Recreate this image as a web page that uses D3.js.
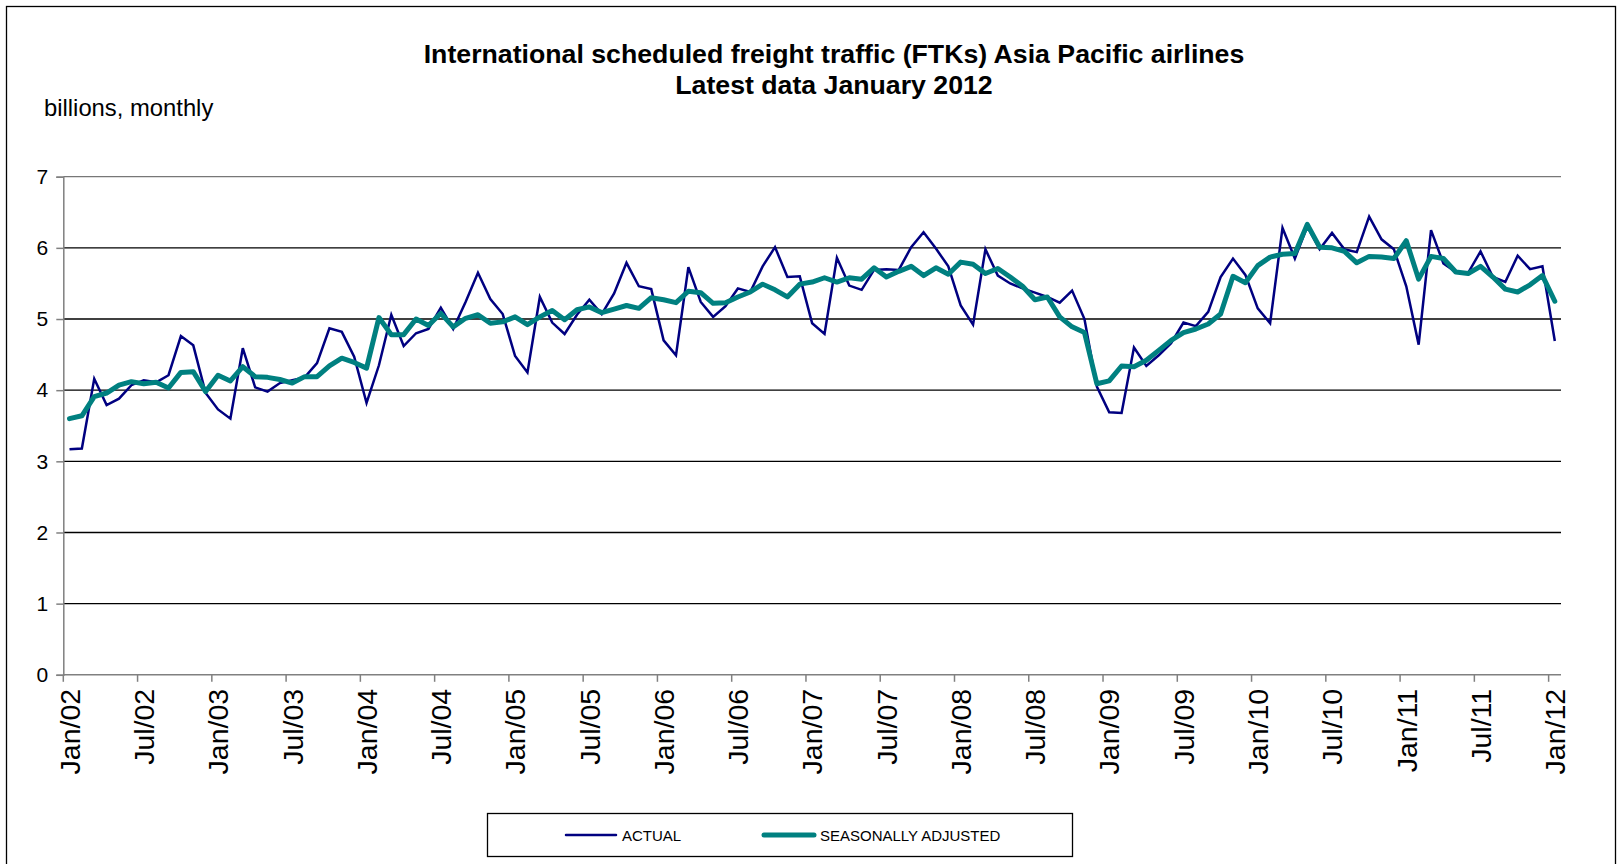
<!DOCTYPE html>
<html>
<head>
<meta charset="utf-8">
<script src="https://cdn.jsdelivr.net/npm/d3@7"></script>
<style>
  body { margin: 0; background: #fff; }
  svg { display: block; }
  text { font-family: "Liberation Sans", Arial, sans-serif; fill: #000; }
</style>
</head>
<body>
<svg id="chart" width="1619" height="864"></svg>
<script>
// months Jan 2002 .. Jan 2012 (121 categories)
const months = d3.timeMonth.range(new Date(2002, 0, 1), new Date(2012, 1, 1));

// ACTUAL, billions FTK per month
const actual = [
  3.17, 3.18, 4.16, 3.79, 3.88, 4.07, 4.14, 4.11, 4.21, 4.76, 4.63, 3.96,
  3.73, 3.60, 4.59, 4.04, 3.98, 4.10, 4.14, 4.18, 4.38, 4.87, 4.82, 4.47,
  3.82, 4.35, 5.06, 4.62, 4.80, 4.86, 5.16, 4.86, 5.24, 5.65, 5.28, 5.07,
  4.48, 4.25, 5.31, 4.95, 4.79, 5.06, 5.27, 5.07, 5.36, 5.79, 5.46, 5.42,
  4.70, 4.49, 5.73, 5.24, 5.03, 5.18, 5.43, 5.38, 5.74, 6.01, 5.59, 5.60,
  4.94, 4.79, 5.86, 5.47, 5.41, 5.69, 5.70, 5.69, 6.01, 6.22, 5.99, 5.74,
  5.19, 4.92, 5.98, 5.61, 5.50, 5.43, 5.37, 5.31, 5.23, 5.40, 5.00, 4.05,
  3.69, 3.68, 4.60, 4.34, 4.49, 4.66, 4.95, 4.90, 5.10, 5.59, 5.85, 5.62,
  5.15, 4.94, 6.28, 5.85, 6.30, 5.98, 6.21, 5.98, 5.94, 6.44, 6.12, 5.98,
  5.46, 4.64, 6.25, 5.78, 5.66, 5.65, 5.95, 5.59, 5.52, 5.89, 5.70, 5.74,
  4.69
];

// SEASONALLY ADJUSTED
const seasAdj = [
  3.60, 3.64, 3.91, 3.96, 4.07, 4.12, 4.09, 4.11, 4.03, 4.25, 4.26, 3.98,
  4.21, 4.13, 4.33, 4.19, 4.18, 4.15, 4.10, 4.19, 4.19, 4.34, 4.45, 4.39,
  4.31, 5.02, 4.78, 4.78, 5.00, 4.91, 5.08, 4.89, 5.01, 5.06, 4.94, 4.96,
  5.03, 4.92, 5.03, 5.12, 4.99, 5.13, 5.17, 5.09, 5.14, 5.19, 5.15, 5.30,
  5.27, 5.23, 5.39, 5.37, 5.22, 5.23, 5.31, 5.38, 5.49, 5.41, 5.31, 5.49,
  5.52, 5.58, 5.52, 5.58, 5.56, 5.72, 5.59, 5.67, 5.74, 5.61, 5.72, 5.63,
  5.80, 5.77, 5.64, 5.71, 5.59, 5.46, 5.27, 5.31, 5.03, 4.89, 4.81, 4.09,
  4.13, 4.34, 4.33, 4.42, 4.56, 4.70, 4.81, 4.86, 4.93, 5.07, 5.60, 5.51,
  5.75, 5.87, 5.91, 5.92, 6.33, 6.01, 6.00, 5.95, 5.79, 5.88, 5.87, 5.85,
  6.10, 5.56, 5.88, 5.85, 5.66, 5.64, 5.74, 5.59, 5.42, 5.38, 5.48, 5.61,
  5.25
];

const yTicks = [0, 1, 2, 3, 4, 5, 6, 7];
const xTickLabels = ["Jan/02", "Jul/02", "Jan/03", "Jul/03", "Jan/04", "Jul/04",
  "Jan/05", "Jul/05", "Jan/06", "Jul/06", "Jan/07", "Jul/07", "Jan/08", "Jul/08",
  "Jan/09", "Jul/09", "Jan/10", "Jul/10", "Jan/11", "Jul/11", "Jan/12"];

const titleLines = ["International scheduled freight traffic (FTKs) Asia Pacific airlines",
  "Latest data January 2012"];
const unitLabel = "billions, monthly";
const seriesNames = ["ACTUAL", "SEASONALLY ADJUSTED"];

const fmt = d3.timeFormat("%b/%y");
const svg = d3.select("#chart");

// plot area
const plot = { left: 63.3, right: 1561, top: 176.7, bottom: 674.8 };

// outer frame
svg.append("rect")
  .attr("x", 6.5).attr("y", 6.5)
  .attr("width", 1609).attr("height", 900)
  .attr("fill", "#fff")
  .attr("stroke", "#000").attr("stroke-width", 1.3);

// scales
const x = d3.scaleBand()
  .domain(months)
  .range([plot.left, plot.right])
  .padding(0);
const y = d3.scaleLinear()
  .domain([0, 7])
  .range([plot.bottom, plot.top]);
const cx = d => x(d) + x.bandwidth() / 2;

// title
svg.selectAll(".title")
  .data(titleLines)
  .enter().append("text")
  .attr("class", "title")
  .attr("x", 834)
  .attr("y", (d, i) => 63.3 + i * 31)
  .attr("text-anchor", "middle")
  .style("font-weight", "bold")
  .style("font-size", "26.7px")
  .text(d => d);

svg.append("text")
  .attr("x", 44)
  .attr("y", 116)
  .style("font-size", "23.8px")
  .text(unitLabel);

// gridlines
svg.append("g")
  .selectAll("line")
  .data(yTicks.filter(d => d > 0))
  .enter().append("line")
  .attr("x1", plot.left).attr("x2", plot.right)
  .attr("y1", d => y(d)).attr("y2", d => y(d))
  .attr("stroke", d => d === 7 ? "#777" : "#000")
  .attr("stroke-width", 1.3);

// y axis
const yAxis = d3.axisLeft(y).tickValues(yTicks).tickSize(7).tickPadding(8).tickFormat(d3.format("d"));
const gy = svg.append("g")
  .attr("transform", `translate(${plot.left},0)`)
  .call(yAxis);
gy.select(".domain").attr("stroke", "#808080").attr("stroke-width", 1.5);
gy.selectAll(".tick line").attr("stroke", "#808080").attr("stroke-width", 1.5);
gy.selectAll(".tick text")
  .style("font-family", "'Liberation Sans', Arial, sans-serif")
  .style("font-size", "21px")
  .attr("fill", "#000");

// x axis: ticks at band edges, labels centred on the categories
const tickMonths = months.filter(d => xTickLabels.includes(fmt(d)));
const gx = svg.append("g");
gx.append("line")
  .attr("x1", plot.left).attr("x2", plot.right)
  .attr("y1", plot.bottom).attr("y2", plot.bottom)
  .attr("stroke", "#808080").attr("stroke-width", 1.5);
gx.selectAll(".xtick")
  .data(tickMonths)
  .enter().append("line")
  .attr("class", "xtick")
  .attr("x1", d => x(d)).attr("x2", d => x(d))
  .attr("y1", plot.bottom).attr("y2", plot.bottom + 7)
  .attr("stroke", "#808080").attr("stroke-width", 1.5);
gx.selectAll(".xlabel")
  .data(tickMonths)
  .enter().append("text")
  .attr("class", "xlabel")
  .attr("transform", d => `translate(${cx(d)},${plot.bottom + 14}) rotate(-90)`)
  .attr("dy", "0.36em")
  .attr("text-anchor", "end")
  .style("font-size", "28.5px")
  .text(d => fmt(d));

// lines
const line = d3.line()
  .x((d, i) => cx(months[i]))
  .y(d => y(d));

svg.append("path")
  .datum(actual)
  .attr("d", line)
  .attr("fill", "none")
  .attr("stroke", "#000080")
  .attr("stroke-width", 2.5)
  .attr("stroke-linejoin", "miter");

svg.append("path")
  .datum(seasAdj)
  .attr("d", line)
  .attr("fill", "none")
  .attr("stroke", "#008080")
  .attr("stroke-width", 5)
  .attr("stroke-linejoin", "round")
  .attr("stroke-linecap", "round");

// legend
const legend = svg.append("g");
legend.append("rect")
  .attr("x", 487.5).attr("y", 813.5)
  .attr("width", 585).attr("height", 43)
  .attr("fill", "#fff")
  .attr("stroke", "#000").attr("stroke-width", 1.3);

const legendItems = [
  { name: seriesNames[0], color: "#000080", w: 2.5, x0: 566 },
  { name: seriesNames[1], color: "#008080", w: 5, x0: 764 }
];
legendItems.forEach(it => {
  legend.append("line")
    .attr("x1", it.x0).attr("x2", it.x0 + 50)
    .attr("y1", 835).attr("y2", 835)
    .attr("stroke", it.color).attr("stroke-width", it.w)
    .attr("stroke-linecap", "round");
  legend.append("text")
    .attr("x", it.x0 + 56)
    .attr("y", 840.5)
    .style("font-size", "15px")
    .text(it.name);
});
</script>
</body>
</html>
